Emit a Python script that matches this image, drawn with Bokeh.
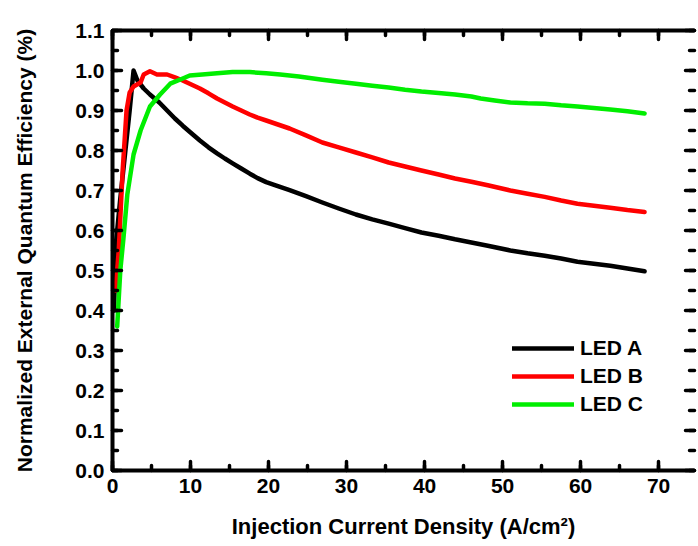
from bokeh.plotting import figure
from bokeh.models import (LinearAxis, SingleIntervalTicker, PrintfTickFormatter, Range1d, Legend,
                          LegendItem, CustomLabelingPolicy)
from bokeh.embed import file_html
from bokeh.resources import INLINE

# LED A (black)
a_x = [0.2, 0.4, 1.0, 1.6, 2.2, 2.7, 3.2, 4.0, 4.8, 6.0, 7.0, 8.0, 9.0, 10.0, 11.2, 12.3, 13.4, 14.4,
       15.4, 16.5, 17.6, 18.6, 19.7, 21.0, 22.7, 24.8, 26.9, 29.0, 31.2, 33.3, 35.4, 37.5, 39.6, 41.8,
       43.9, 46.0, 48.1, 51.0, 53.2, 55.4, 57.5, 59.6, 61.7, 63.8, 66.0, 68.2]
a_y = [0.40, 0.56, 0.68, 0.79, 0.90, 1.00, 0.975, 0.955, 0.94, 0.92, 0.90, 0.88, 0.862, 0.845, 0.825, 0.808,
       0.793, 0.78, 0.768, 0.755, 0.742, 0.731, 0.721, 0.712, 0.701, 0.686, 0.67, 0.655, 0.64, 0.628, 0.617,
       0.606, 0.595, 0.587, 0.578, 0.57, 0.562, 0.55, 0.543, 0.537, 0.53, 0.522, 0.517, 0.512, 0.505, 0.498]

# LED B (red)
b_x = [0.4, 0.8, 1.3, 1.8, 2.2, 2.7, 3.6, 4.0, 4.8, 5.7, 7.0, 8.0, 9.0, 10.1, 11.2, 12.3, 13.4, 14.4, 15.4,
       16.5, 17.6, 18.6, 19.7, 21.2, 22.7, 24.8, 26.9, 29.0, 31.2, 33.3, 35.4, 37.5, 39.6, 41.8, 43.9, 46.0,
       48.1, 51.0, 53.2, 55.4, 57.5, 59.6, 61.7, 63.8, 66.0, 68.2]
b_y = [0.45, 0.55, 0.75, 0.90, 0.945, 0.96, 0.97, 0.99, 0.998, 0.99, 0.99, 0.983, 0.975, 0.965, 0.955, 0.943,
       0.93, 0.92, 0.91, 0.90, 0.89, 0.882, 0.875, 0.865, 0.855, 0.838, 0.82, 0.808, 0.795, 0.783, 0.77, 0.76,
       0.75, 0.74, 0.73, 0.722, 0.713, 0.70, 0.692, 0.684, 0.675, 0.667, 0.662, 0.657, 0.651, 0.646]

# LED C (green)
c_x = [0.6, 1.0, 1.4, 1.9, 2.7, 3.6, 4.8, 6.1, 7.4, 9.0, 9.9, 11.5, 13.4, 15.4, 17.6, 19.7, 21.5, 23.9, 26.9,
       29.0, 31.2, 33.3, 35.4, 37.5, 39.6, 41.8, 43.9, 46.0, 47.2, 49.0, 51.0, 53.2, 55.4, 57.5, 59.6, 61.7,
       63.8, 66.0, 68.2]
c_y = [0.36, 0.50, 0.58, 0.69, 0.79, 0.85, 0.91, 0.94, 0.967, 0.98, 0.9875, 0.99, 0.993, 0.996, 0.996, 0.993,
       0.99, 0.985, 0.977, 0.972, 0.967, 0.962, 0.9575, 0.952, 0.9475, 0.944, 0.94, 0.935, 0.93, 0.925, 0.92,
       0.918, 0.917, 0.913, 0.91, 0.906, 0.9025, 0.898, 0.8925]

series_names = ["LED A", "LED B", "LED C"]
series_colors = ["#000000", "#ff0000", "#00ee00"]

FONT = "Liberation Sans"

p = figure(width=698, height=546, output_backend="svg", toolbar_location=None,
           x_range=Range1d(0, 74.6), y_range=Range1d(0, 1.1),
           min_border_left=112, min_border_right=0, min_border_top=30, min_border_bottom=76)
p.grid.visible = False
p.outline_line_color = None
p.background_fill_color = "white"

xt = SingleIntervalTicker(interval=10, num_minor_ticks=2)
yt = SingleIntervalTicker(interval=0.1, num_minor_ticks=2)

def style_axis(ax, labels=True):
    ax.axis_line_width = 4
    ax.axis_line_color = "black"
    ax.major_tick_in = 9
    ax.major_tick_out = 0
    ax.minor_tick_in = 5
    ax.minor_tick_out = 0
    ax.major_tick_line_width = 3.5
    ax.minor_tick_line_width = 3.5
    ax.major_tick_line_cap = "round"
    ax.minor_tick_line_cap = "round"
    ax.major_tick_line_color = "black"
    ax.minor_tick_line_color = "black"
    if labels:
        ax.major_label_text_font = FONT
        ax.major_label_text_font_style = "bold"
        ax.major_label_text_font_size = "21px"
        ax.major_label_text_color = "black"
        ax.axis_label_text_font = FONT
        ax.axis_label_text_font_style = "bold"
        ax.axis_label_text_color = "black"
    else:
        ax.major_label_policy = CustomLabelingPolicy(code="return new Set()")
        ax.major_label_text_font_size = "1px"
        ax.major_label_standoff = 0

xa = p.xaxis[0]
xa.ticker = xt
style_axis(xa)
xa.axis_label = "Injection Current Density (A/cm²)"
xa.axis_label_text_font_size = "22px"
xa.major_label_standoff = 8
xa.axis_label_standoff = 18

ya = p.yaxis[0]
ya.ticker = yt
ya.formatter = PrintfTickFormatter(format="%.1f")
style_axis(ya)
ya.axis_label = "Normalized External Quantum Efficiency (%)"
ya.axis_label_text_font_size = "21px"
ya.major_label_standoff = 8
ya.axis_label_standoff = 36

top = LinearAxis(ticker=SingleIntervalTicker(interval=10, num_minor_ticks=2))
style_axis(top, labels=False)
p.add_layout(top, "above")

right = LinearAxis(ticker=SingleIntervalTicker(interval=0.1, num_minor_ticks=2))
style_axis(right, labels=False)
right.axis_line_alpha = 0
p.add_layout(right, "right")

renderers = []
for xs, ys, c in zip([a_x, b_x, c_x], [a_y, b_y, c_y], series_colors):
    r = p.line(xs, ys, line_color=c, line_width=4.5, line_join="round", line_cap="round")
    renderers.append(r)

legend = Legend(items=[LegendItem(label=n, renderers=[r]) for n, r in zip(series_names, renderers)],
                location=(400, 54))
legend.padding = 0
legend.margin = 0
legend.spacing = 4
legend.glyph_width = 62
legend.glyph_height = 22
legend.label_height = 22
legend.label_standoff = 6
legend.border_line_alpha = 0
legend.background_fill_alpha = 0
legend.label_text_font = FONT
legend.label_text_font_style = "bold"
legend.label_text_font_size = "21px"
legend.label_text_color = "black"
p.add_layout(legend, "center")

open("out.html", "w").write(file_html(p, INLINE))
